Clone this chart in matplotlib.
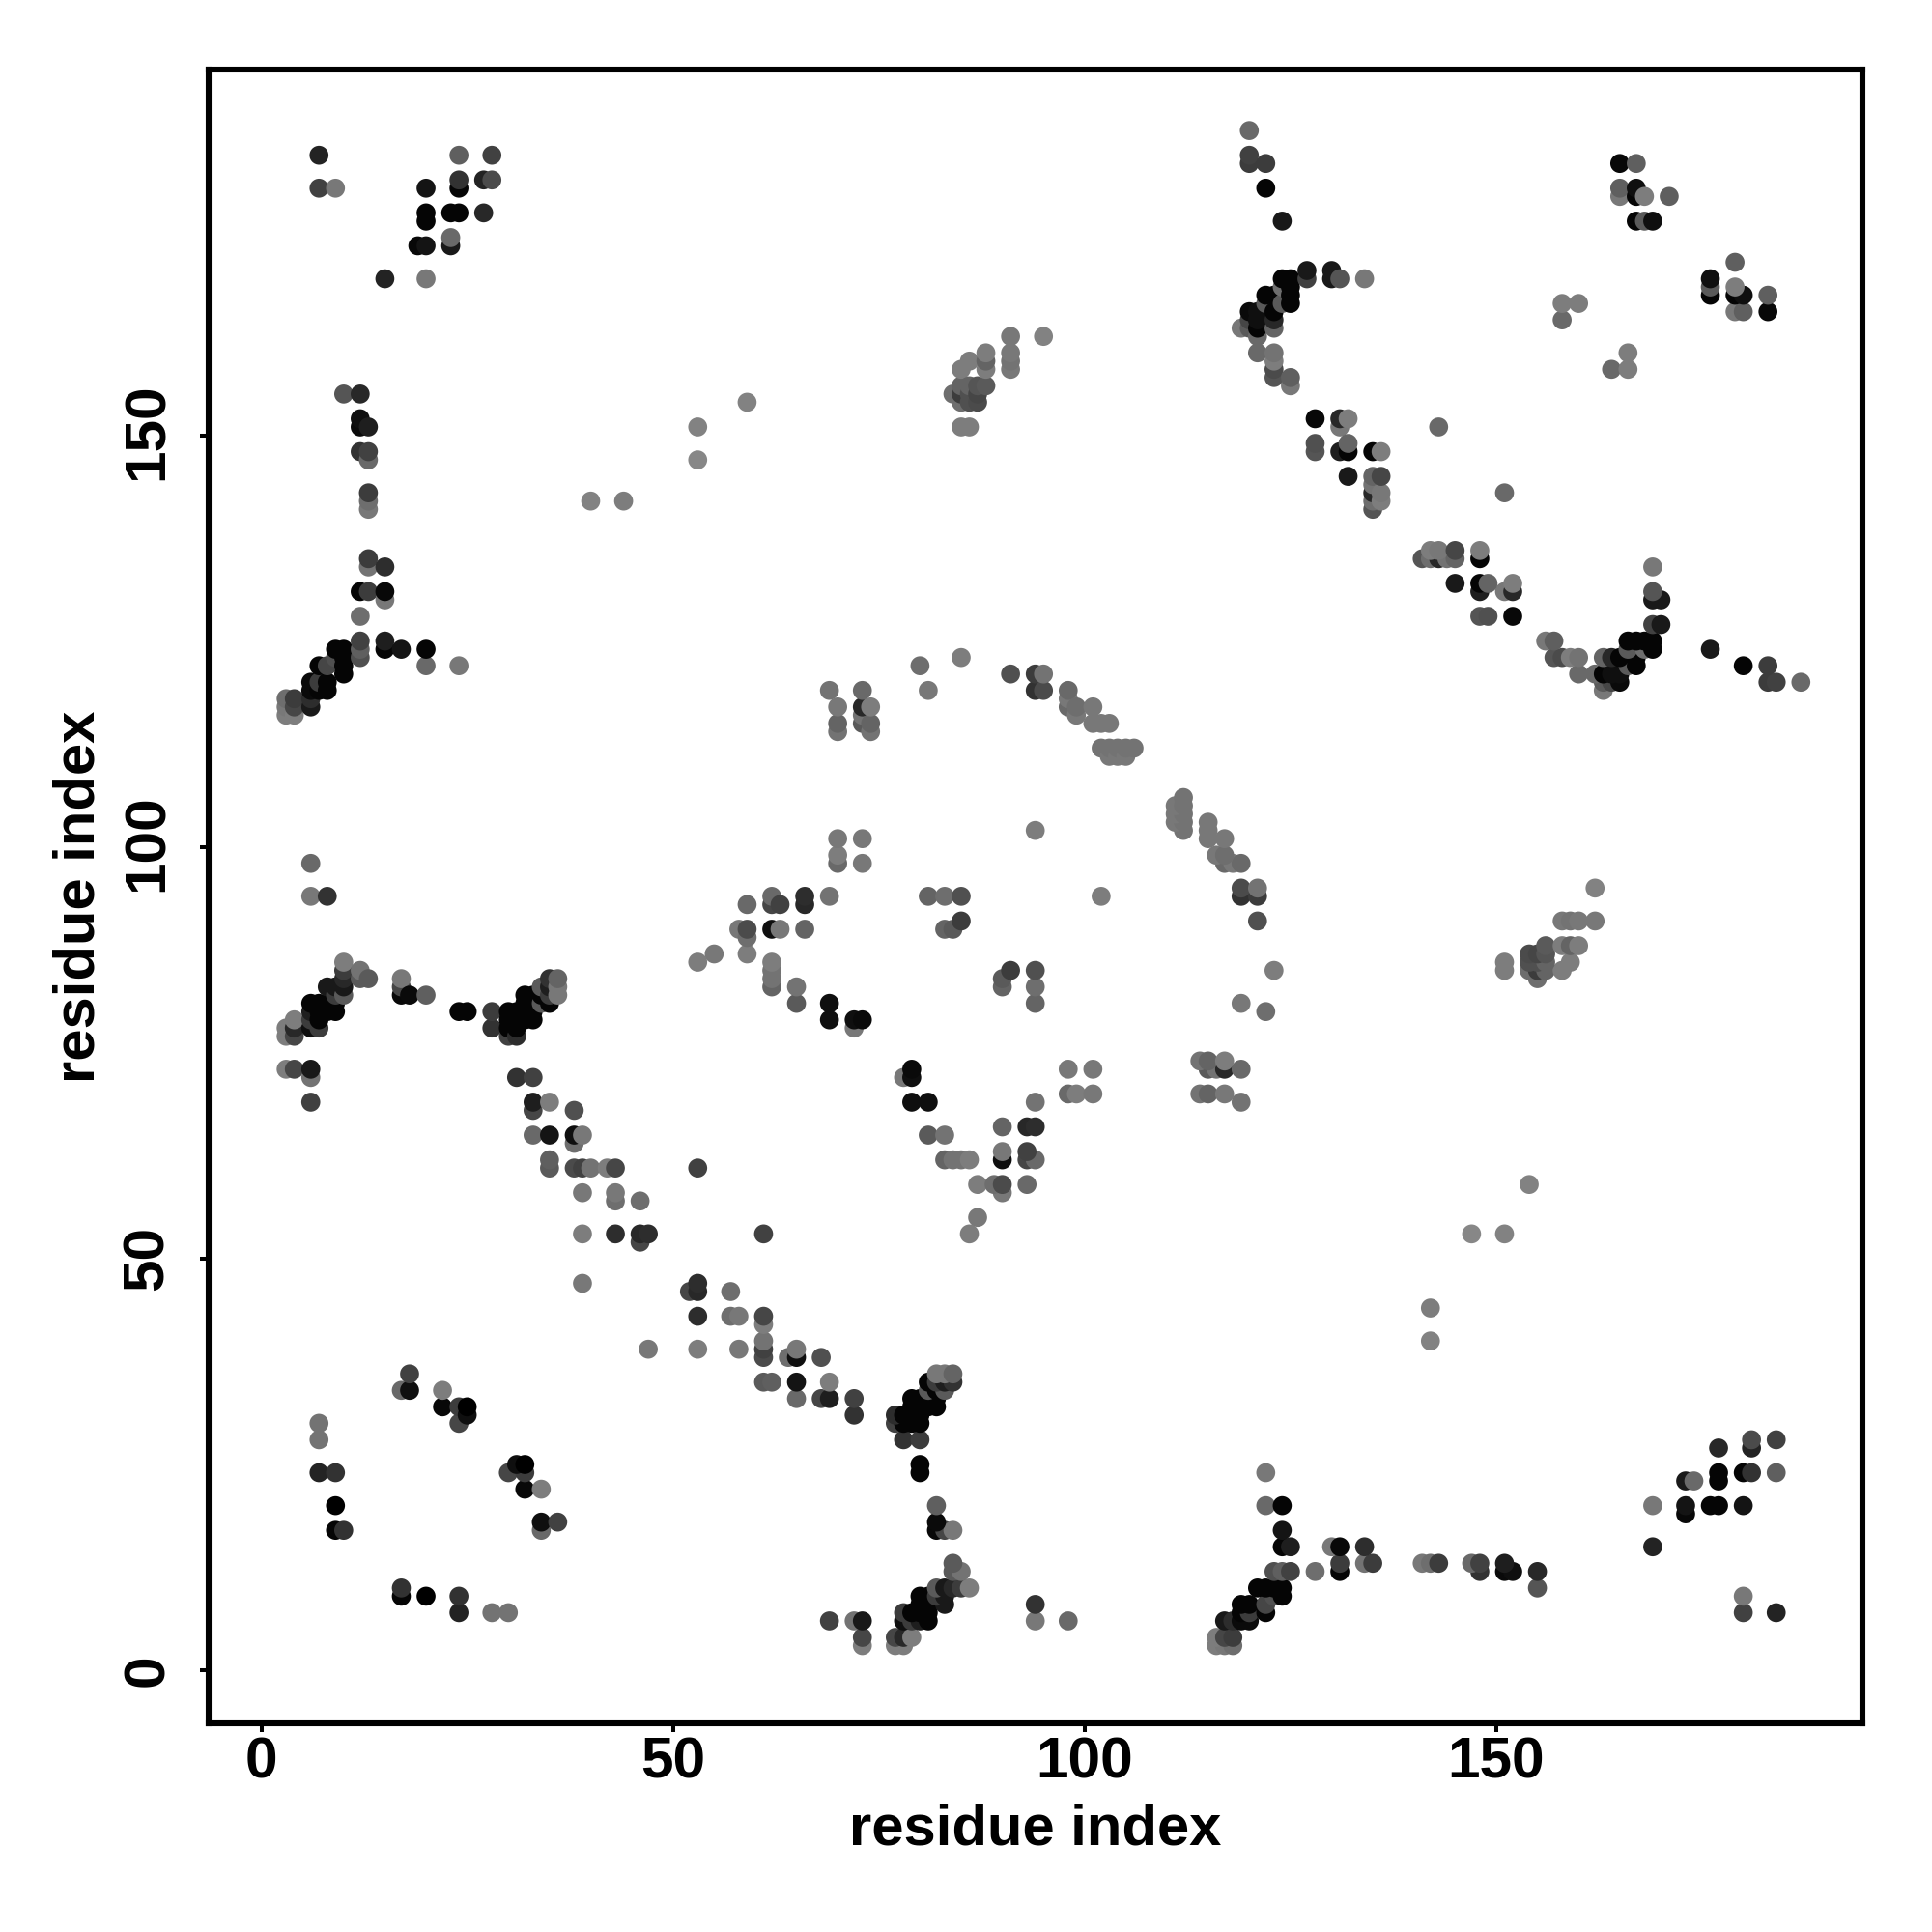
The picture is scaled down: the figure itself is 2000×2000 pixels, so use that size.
import numpy as np
import matplotlib
matplotlib.use("Agg")
import matplotlib.pyplot as plt
from matplotlib.transforms import ScaledTranslation

plt.rcParams['font.family'] = ['Liberation Sans', 'DejaVu Sans']
plt.rcParams['font.weight'] = 'bold'

# contacts, one row per first residue (i < j), 0 = black, 255 = white
first_res = [3, 4, 6, 7, 8, 9, 10, 12, 13, 15,
             17, 18, 19, 20, 22, 23, 24, 25, 27, 28,
             30, 31, 32, 33, 34, 35, 36, 38, 39, 40,
             42, 43, 44, 46, 47, 53, 55, 58, 59, 62,
             63, 65, 66, 69, 70, 72, 73, 74, 80, 81,
             83, 84, 85, 86, 87, 88, 91, 94, 95, 98,
             99, 101, 102, 103, 104, 105, 106, 119, 120, 121,
             122, 123, 124, 125, 127, 128, 130, 131, 132, 134,
             135, 136, 143, 158, 160, 165, 167, 168, 169, 171]

partner_res = [
    [73, 77, 78, 116, 117, 118],
    [73, 77, 78, 79, 116, 117, 118],
    [69, 72, 73, 78, 79, 80, 81, 94, 98, 117, 118, 119, 120],
    [24, 28, 30, 78, 79, 80, 81, 119, 120, 122, 180, 184],
    [80, 81, 83, 94, 119, 120, 122],
    [17, 20, 24, 80, 81, 82, 83, 123, 124, 180],
    [17, 82, 83, 84, 85, 86, 121, 122, 123, 124, 155],
    [84, 85, 123, 124, 125, 128, 131, 148, 151, 152, 155],
    [84, 131, 134, 135, 141, 142, 143, 147, 148, 151],
    [124, 125, 130, 131, 134, 169],
    [34, 82, 83, 84, 124],
    [34, 36, 82],
    [173],
    [82, 122, 124, 169, 173, 176, 177, 180],
    [32, 34],
    [173, 174, 177],
    [30, 32, 80, 122, 177, 180, 181, 184],
    [31, 32, 80],
    [177, 181],
    [78, 80, 181, 184],
    [77, 78, 79, 80],
    [72, 77, 78, 79, 80],
    [79, 80, 81, 82],
    [65, 68, 69, 72, 79, 80, 81, 82],
    [81, 82, 83],
    [61, 62, 65, 69, 81, 82, 83, 84],
    [82, 83, 84],
    [61, 64, 65, 68],
    [47, 53, 58, 61, 65],
    [61, 142],
    [61],
    [53, 57, 58, 61],
    [142],
    [52, 53, 57],
    [53],
    [61, 86, 147, 151],
    [87],
    [90],
    [87, 89, 90, 93, 154],
    [83, 84, 85, 86, 90, 93, 94],
    [90, 93],
    [81, 83],
    [90, 93, 94],
    [79, 81, 94, 119],
    [98, 99, 101, 114, 115, 117],
    [78, 79],
    [79, 98, 101, 115, 116, 117, 119],
    [114, 115, 117],
    [122],
    [94, 119],
    [90, 94],
    [90, 155],
    [91, 94, 123, 151, 154, 155, 156, 158],
    [151, 154, 155, 156, 159],
    [154, 155, 156],
    [156, 158, 159, 160],
    [121, 158, 159, 160, 162],
    [102, 119, 121],
    [119, 121, 162],
    [117, 118, 119],
    [116, 117],
    [115, 117],
    [112, 115],
    [111, 112, 115],
    [111, 112],
    [111, 112],
    [112],
    [163],
    [163, 164, 165, 183, 184, 187],
    [160, 162, 163, 164, 165],
    [166, 167, 180, 183],
    [157, 158, 159, 160, 163, 164, 165, 167],
    [166, 168, 169, 176],
    [156, 157, 166, 167, 168, 169],
    [169, 170],
    [148, 149, 152],
    [169, 170],
    [148, 151, 152, 169],
    [145, 148, 149, 152],
    [169],
    [141, 142, 143, 144, 145, 148],
    [142, 143, 145, 148],
    [151],
    [164, 166],
    [166],
    [179, 180, 183],
    [176, 179, 180, 183],
    [176, 179],
    [176],
    [179],
]

partner_shade = [
    [125, 125, 125, 125, 120, 110],
    [70, 70, 40, 125, 125, 70, 60],
    [65, 115, 25, 15, 60, 30, 5, 120, 105, 25, 45, 10, 10],
    [35, 115, 115, 60, 5, 5, 5, 5, 60, 5, 65, 35],
    [5, 5, 25, 50, 5, 5, 70],
    [5, 0, 50, 5, 5, 60, 25, 80, 5, 120],
    [50, 90, 25, 40, 60, 125, 5, 5, 5, 5, 85],
    [90, 115, 80, 95, 65, 110, 5, 50, 10, 15, 40],
    [90, 60, 115, 60, 120, 110, 60, 105, 65, 30],
    [5, 30, 120, 8, 45, 35],
    [105, 8, 70, 120, 20],
    [15, 65, 10],
    [8],
    [95, 105, 5, 120, 20, 5, 5, 20],
    [8, 125],
    [25, 105, 5],
    [70, 60, 5, 120, 5, 5, 50, 95],
    [15, 0, 5],
    [40, 35],
    [50, 60, 75, 65],
    [65, 5, 5, 5],
    [50, 45, 5, 5, 5],
    [5, 5, 5, 5],
    [105, 70, 30, 65, 5, 5, 5, 5],
    [90, 5, 90],
    [90, 95, 20, 125, 5, 60, 30, 50],
    [120, 120, 100],
    [75, 110, 15, 80],
    [120, 125, 120, 65, 120],
    [115, 130],
    [125],
    [45, 110, 120, 70],
    [125],
    [70, 40, 110],
    [45],
    [65, 125, 135, 130],
    [120],
    [120],
    [125, 110, 75, 105, 130],
    [100, 115, 115, 125, 15, 70, 105],
    [120, 65],
    [90, 115],
    [100, 40, 45],
    [15, 15, 115, 115],
    [105, 125, 120, 115, 100, 120],
    [120, 15],
    [10, 120, 120, 90, 115, 40, 105],
    [115, 100, 125],
    [110],
    [100, 120],
    [100, 110],
    [90, 110],
    [60, 80, 125, 125, 110, 60, 100, 125],
    [125, 80, 80, 100, 125],
    [75, 70, 85],
    [90, 125, 100, 125],
    [80, 120, 115, 120, 120],
    [125, 50, 60],
    [75, 115, 130],
    [105, 120, 105],
    [120, 110],
    [120, 120],
    [115, 120],
    [120, 115, 120],
    [120, 115],
    [120, 115],
    [115],
    [120],
    [90, 70, 10, 60, 65, 105],
    [105, 105, 5, 15, 15],
    [90, 5, 5, 60],
    [85, 75, 125, 115, 100, 40, 5, 5],
    [90, 110, 5, 25],
    [120, 95, 5, 5, 5, 5],
    [65, 25],
    [85, 80, 8],
    [25, 25],
    [30, 120, 40, 85],
    [25, 5, 100, 125],
    [120],
    [85, 110, 40, 115, 100, 5],
    [125, 120, 70, 125],
    [105],
    [105, 125],
    [125],
    [120, 95, 8],
    [5, 5, 15, 95],
    [90, 125],
    [15],
    [95],
]

tick_vals = [0, 50, 100, 150]
axis_label = "residue index"

res_i = []
res_j = []
shade = []
for i, partners, greys in zip(first_res, partner_res, partner_shade, strict=True):
    for j, g in zip(partners, greys, strict=True):
        res_i.append(i)
        res_j.append(j)
        shade.append(g / 255)
res_i = np.array(res_i)
res_j = np.array(res_j)
shade = np.array(shade)

fig = plt.figure(figsize=(20, 20), dpi=100)
ax = fig.add_axes([215.7 / 2000, 216 / 2000, 1712 / 2000, 1712.3 / 2000])

# the map is symmetric, each contact shows up on both sides of the diagonal
x = np.concatenate([res_i, res_j])
y = np.concatenate([res_j, res_i])
colors = np.concatenate([shade, shade])
ax.scatter(x, y, s=200, c=np.column_stack([colors, colors, colors]), linewidths=0, clip_on=False, zorder=3)

ax.set_xlim(-6.44, 194.44)
ax.set_ylim(-6.44, 194.44)

for side in ax.spines.values():
    side.set_linewidth(4.4)
    side.set_capstyle('projecting')

ax.set_xticks(tick_vals)
ax.set_yticks(tick_vals)
ax.set_xticklabels([str(t) for t in tick_vals], fontsize=43.5, fontweight='bold')
ax.set_yticklabels([str(t) for t in tick_vals], fontsize=43.5, fontweight='bold', rotation=90, va='center')
ax.tick_params(axis='x', length=6.5, width=2.9, pad=3)
ax.tick_params(axis='y', length=6.5, width=2.9, pad=18.5)

# three digit labels sit a bit low because of the narrow 1, nudge them up
for lab in ax.get_yticklabels()[2:]:
    lab.set_transform(lab.get_transform() + ScaledTranslation(0, 3 / 72, fig.dpi_scale_trans))

ax.set_xlabel(axis_label, fontsize=43, fontweight='bold', labelpad=10)
ax.set_ylabel(axis_label, fontsize=43, fontweight='bold', labelpad=12)

plt.savefig("out.png", dpi=100, facecolor='white')
